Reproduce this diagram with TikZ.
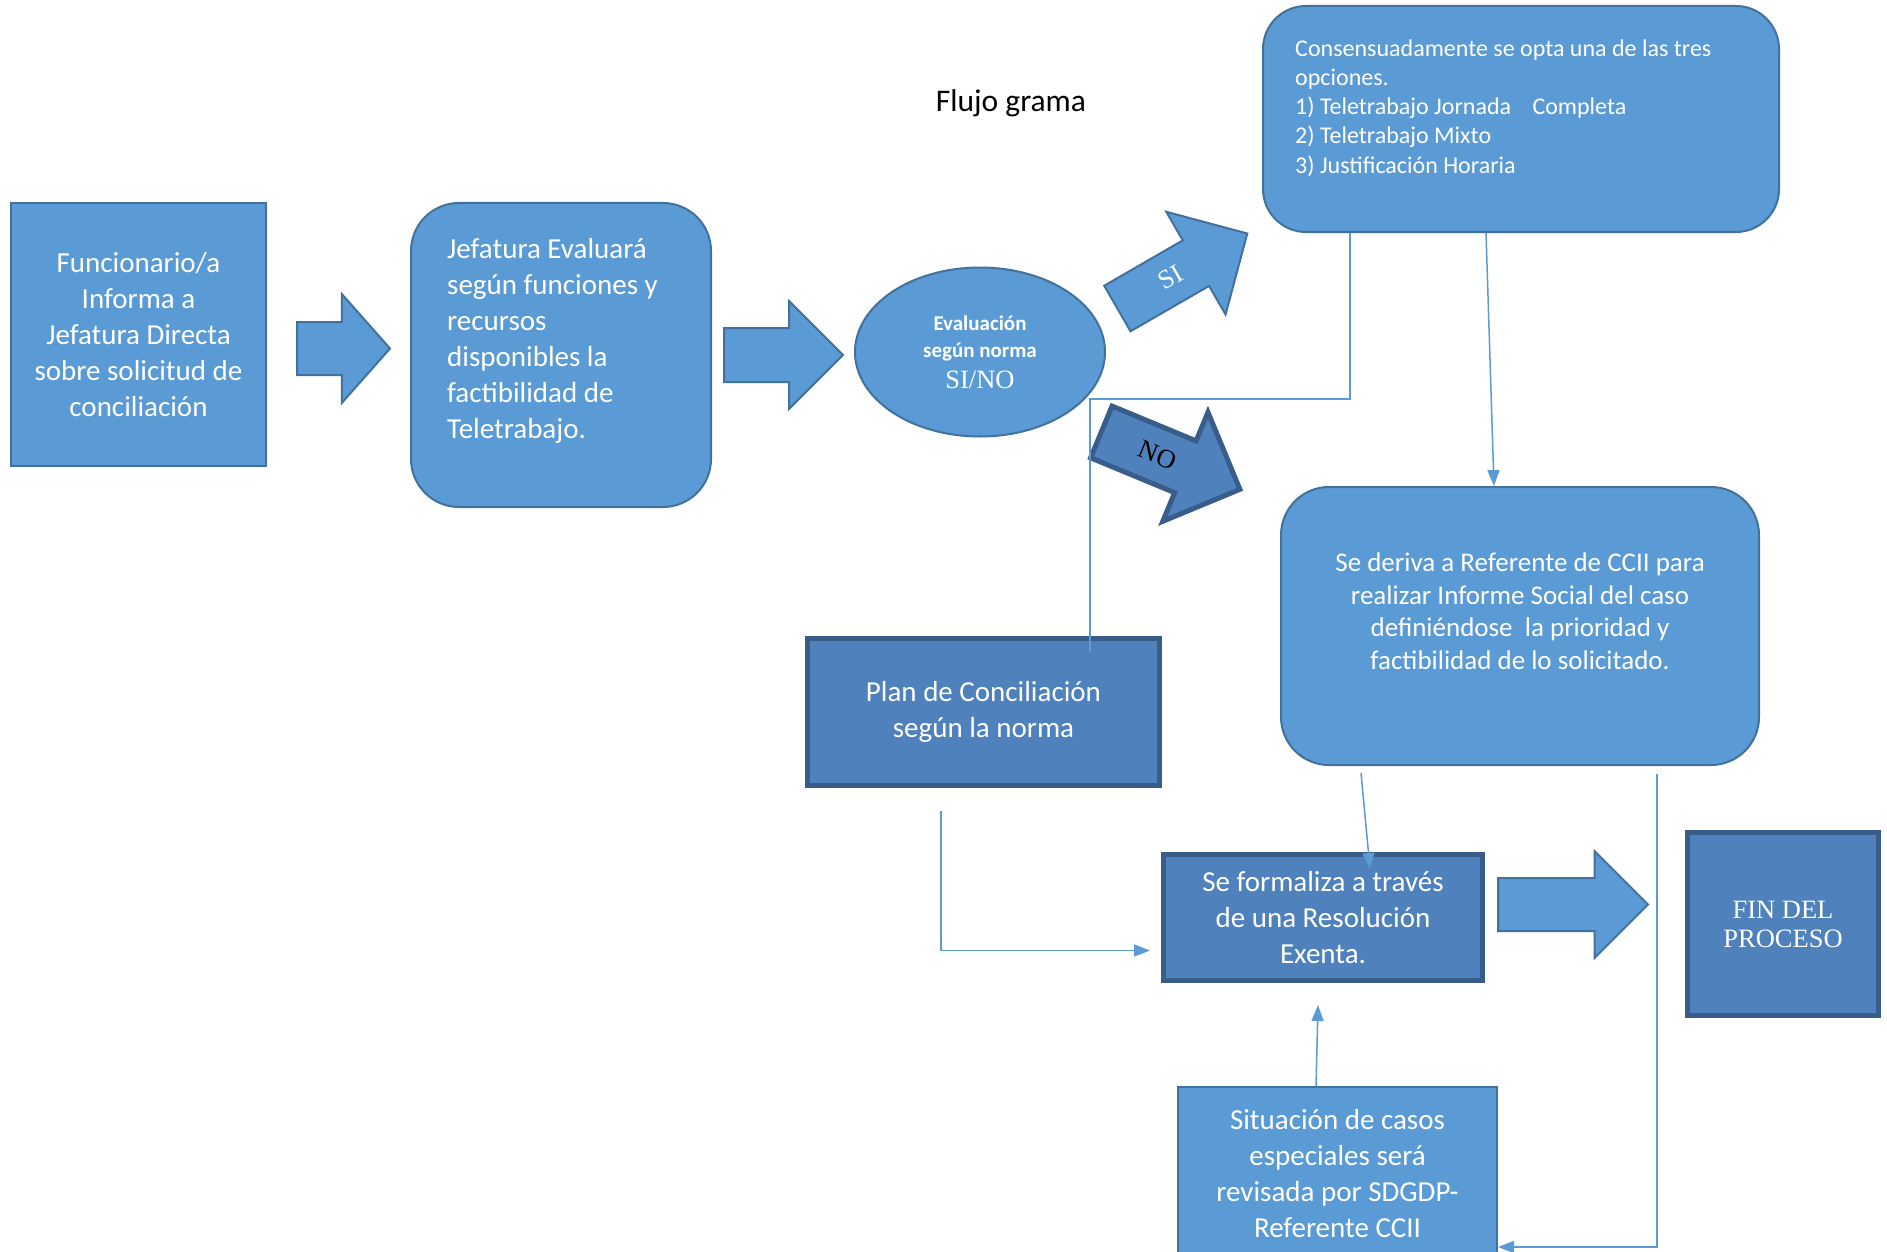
\documentclass[tikz,border=0pt]{standalone}
\usepackage{fontspec}
\setmainfont{Carlito}
\newfontfamily\timesfont{Liberation Serif}
\usetikzlibrary{shapes.geometric,shapes.arrows,arrows.meta}

\definecolor{boxblue}{HTML}{5B9BD5}
\definecolor{boxedge}{HTML}{41719C}
\definecolor{darkblue}{HTML}{4F81BD}
\definecolor{darkedge}{HTML}{385D8A}

\newcommand\cajafont{\fontsize{29}{36}\selectfont}
\newcommand\opcionfont{\fontsize{24}{29.3}\selectfont}
\newcommand\derivafont{\fontsize{27}{32.5}\selectfont}
\newcommand\serifont{\timesfont\mdseries\fontsize{26.5}{29}\selectfont}

\tikzset{
  lightbox/.style={draw=boxedge, fill=boxblue, line width=2pt, text=white, inner sep=0pt},
  darkbox/.style={draw=darkedge, fill=darkblue, line width=5pt, text=white, inner sep=0pt},
  blockarrow/.style={single arrow, draw=boxedge, fill=boxblue, line width=2pt,
    inner xsep=0pt, single arrow tip angle=90, anchor=tail},
  link/.style={draw=boxblue, line width=1.5pt},
  linkarrow/.style={link, -{Triangle[length=16pt,width=12pt]}},
}

\begin{document}
\begin{tikzpicture}[x=1pt,y=-1pt]
    \useasboundingbox (0,0) rectangle (1887,1252);
    % Title
    \node[font=\fontsize{31.5}{38}\selectfont] (titulo) at (1011,103) {Flujo grama};
    % First row
    \node[lightbox, minimum width=255, minimum height=262, align=center, font=\cajafont]
        (funcionario) at (138.5,334.5) {Funcionario/a\\Informa a\\Jefatura Directa\\sobre solicitud de\\conciliación};
    \node[lightbox, rounded corners=48, minimum width=300, minimum height=304] (jefatura) at (561,355) {};
    \node[text=white, align=left, anchor=west, inner sep=0pt, font=\cajafont] (jefaturatxt) at (447,341)
        {Jefatura Evaluará\\según funciones y\\recursos\\disponibles la\\factibilidad de\\Teletrabajo.};
    \node[lightbox, ellipse, minimum width=250, minimum height=169, align=center,
        font=\bfseries\fontsize{21}{27}\selectfont] (evalua) at (980,352)
        {Evaluación\\según norma\\[4pt]{\serifont SI/NO}};
    % Options
    \node[lightbox, rounded corners=43, minimum width=516, minimum height=226] (consenso) at (1521,119) {};
    \node[text=white, align=left, anchor=west, inner sep=0pt, font=\opcionfont] (consensotxt) at (1295,108)
        {Consensuadamente se opta una de las tres\\opciones.\\1) Teletrabajo Jornada\hspace{16pt} Completa\\2) Teletrabajo Mixto\\3) Justificación Horaria};
    \node[lightbox, rounded corners=48, minimum width=478, minimum height=278] (deriva) at (1520,626) {};
    \node[text=white, align=center, inner sep=0pt, font=\derivafont] (derivatxt) at (1520,611)
        {Se deriva a Referente de CCII para\\realizar Informe Social del caso\\definiéndose\ \ la prioridad y\\factibilidad de lo solicitado.};
    % Lower boxes
    \node[darkbox, minimum width=352, minimum height=147, align=center, font=\cajafont]
        (plan) at (983.5,712) {Plan de Conciliación\\según la norma};
    \node[darkbox, minimum width=319, minimum height=126, align=center, font=\cajafont]
        (formaliza) at (1323,917.5) {Se formaliza a través\\de una Resolución\\Exenta.};
    \node[darkbox, minimum width=191, minimum height=183, align=center, font=\serifont]
        (fin) at (1783,924) {FIN DEL\\PROCESO};
    \node[lightbox, minimum width=319, minimum height=174, align=center, font=\cajafont]
        (especial) at (1337.5,1174) {Situación de casos\\especiales será\\revisada por SDGDP-\\Referente CCII};
    % Block arrows
    \node[blockarrow, inner ysep=25.5pt, minimum height=93, single arrow head extend=28,
        single arrow tip angle=97] (flecha1) at (296,348.5) {};
    \node[blockarrow, inner ysep=26pt, minimum height=119, single arrow head extend=27] (flecha2) at (723,355) {};
    \node[blockarrow, inner ysep=25.5pt, minimum height=150, single arrow head extend=27] (flecha3) at (1497,904.5) {};
    \node[blockarrow, rotate=30, text height=17pt, text depth=0pt, inner ysep=16.8pt, minimum height=150,
        single arrow head extend=33, text=white, font=\serifont] (si) at (1116.5,309) {SI};
    \node[blockarrow, rotate=-22.5, draw=darkedge, fill=darkblue, line width=5pt, text height=17pt,
        text depth=0pt, inner ysep=17pt, minimum height=150, single arrow head extend=31,
        font=\serifont] (no) at (1099,431) {NO};
    % Thin connectors
    \coordinate (noend) at (1090,652);
    \coordinate (planout) at (941,811);
    \coordinate (derivaout) at (1361,773);
    \coordinate (derivaout2) at (1657,774);
    \draw[link] (1350,0 |- consenso.south) |- (1090,399) -- (noend);
    \draw[linkarrow] (1486,0 |- consenso.south) -- (1494,0 |- deriva.north);
    \draw[linkarrow] (derivaout) -- (1370,869);
    \draw[linkarrow] (planout) |- ([xshift=-11pt,yshift=-33pt]formaliza.west);
    \draw[linkarrow] (1316,0 |- especial.north) -- ([xshift=-5pt,yshift=-22pt]formaliza.south);
    \draw[linkarrow] (derivaout2) |- ([yshift=-73pt]especial.east);
\end{tikzpicture}
\end{document}
